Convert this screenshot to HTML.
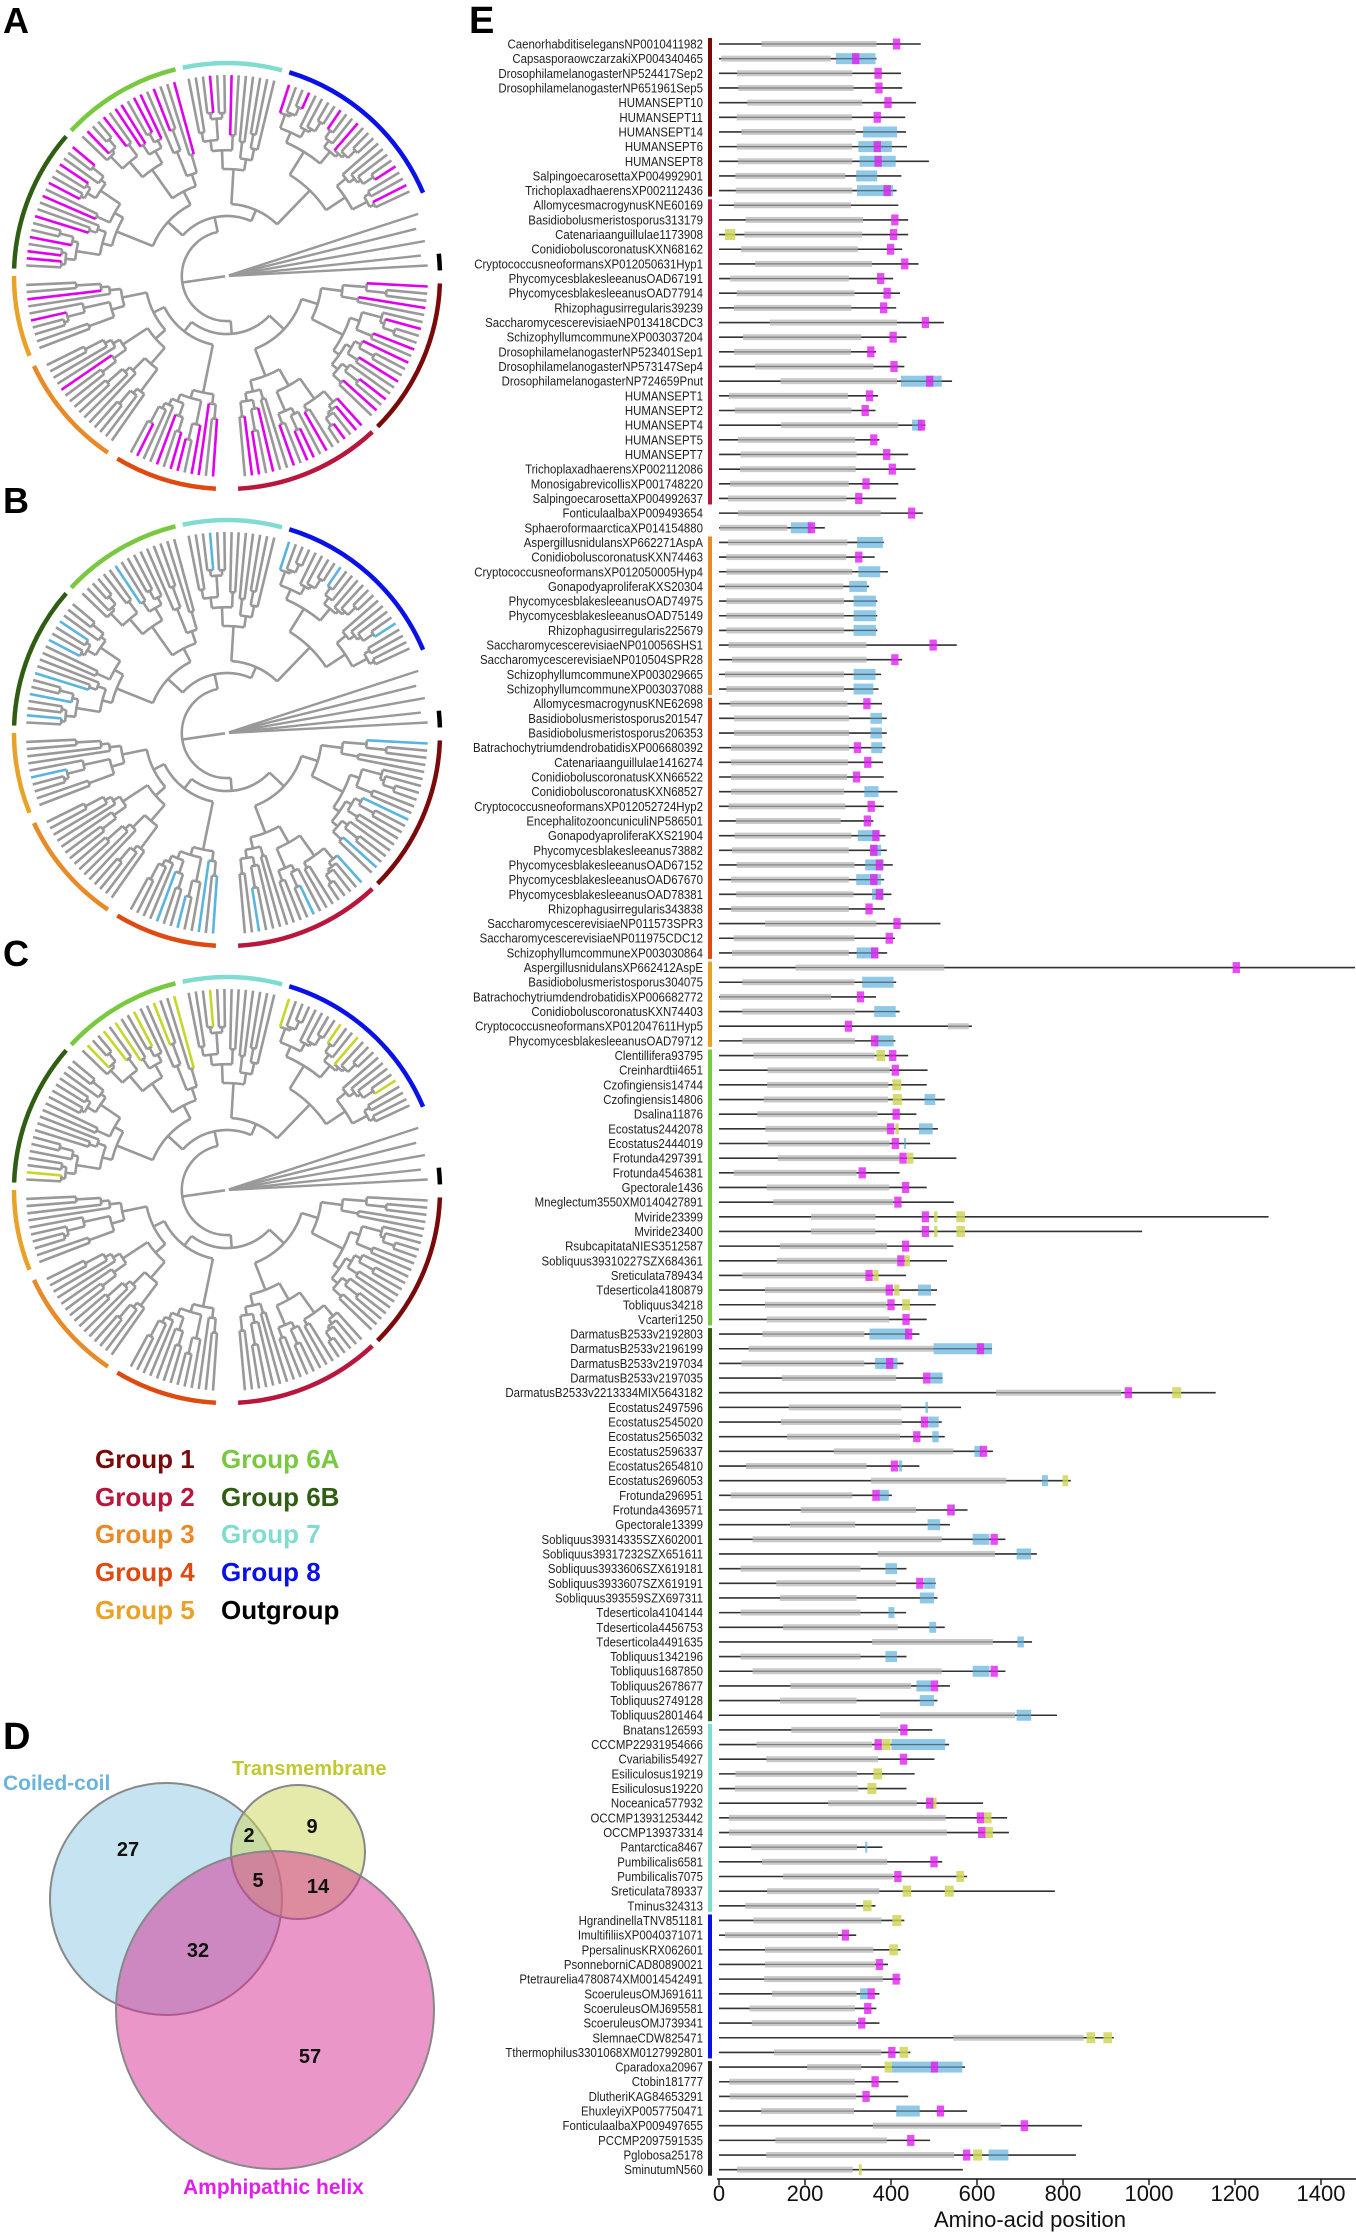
<!DOCTYPE html>
<html><head><meta charset="utf-8"><title>Septin figure</title>
<style>
html,body{margin:0;padding:0;background:#fff;}
svg{display:block;font-family:"Liberation Sans",Arial,sans-serif;}
</style></head>
<body>
<svg id="fig" width="1356" height="2232" viewBox="0 0 1356 2232" xmlns="http://www.w3.org/2000/svg">
<g id="trees"></g>
<text x="3" y="33" font-size="36" font-weight="bold">A</text>
<text x="3" y="513" font-size="36" font-weight="bold">B</text>
<text x="3" y="966" font-size="36" font-weight="bold">C</text>
<text x="3" y="1749" font-size="38" font-weight="bold">D</text>
<text x="469" y="33" font-size="38" font-weight="bold">E</text>

<g font-size="26" font-weight="bold">
<text x="95" y="1468" fill="#7a0a0a">Group 1</text>
<text x="95" y="1506" fill="#b8163c">Group 2</text>
<text x="95" y="1543" fill="#e88a28">Group 3</text>
<text x="95" y="1581" fill="#de4a10">Group 4</text>
<text x="95" y="1619" fill="#e8a228">Group 5</text>
<text x="221" y="1468" fill="#78c840">Group 6A</text>
<text x="221" y="1506" fill="#2f5e13">Group 6B</text>
<text x="221" y="1543" fill="#80dcd0">Group 7</text>
<text x="221" y="1581" fill="#0a10e8">Group 8</text>
<text x="221" y="1619" fill="#000">Outgroup</text>
</g>

<g>
<circle cx="166" cy="1899" r="116" fill="#8cc8e2" fill-opacity="0.5" stroke="#888" stroke-width="2"/>
<circle cx="298" cy="1852" r="67" fill="#ccd555" fill-opacity="0.5" stroke="#888" stroke-width="2"/>
<circle cx="275" cy="2010" r="159" fill="#d62e94" fill-opacity="0.5" stroke="#888" stroke-width="2"/>
<text x="3" y="1790" font-size="21" font-weight="bold" fill="#6ab4dc">Coiled-coil</text>
<text x="232" y="1775" font-size="20" font-weight="bold" fill="#c0c832">Transmembrane</text>
<text x="183" y="2194" font-size="21" font-weight="bold" fill="#e020e8">Amphipathic helix</text>
<g font-size="20" font-weight="bold" text-anchor="middle" fill="#111">
<text x="128" y="1856">27</text>
<text x="249" y="1842">2</text>
<text x="312" y="1833">9</text>
<text x="258" y="1887">5</text>
<text x="318" y="1893">14</text>
<text x="198" y="1957">32</text>
<text x="310" y="2063">57</text>
</g>
</g>

<g id="domains"></g>
</svg>

<script>
// ---------- Panel E data ----------
const names = ["CaenorhabditiselegansNP0010411982","CapsasporaowczarzakiXP004340465","DrosophilamelanogasterNP524417Sep2","DrosophilamelanogasterNP651961Sep5","HUMANSEPT10","HUMANSEPT11","HUMANSEPT14","HUMANSEPT6","HUMANSEPT8","SalpingoecarosettaXP004992901","TrichoplaxadhaerensXP002112436",
"AllomycesmacrogynusKNE60169","Basidiobolusmeristosporus313179","Catenariaanguillulae1173908","ConidioboluscoronatusKXN68162","CryptococcusneoformansXP012050631Hyp1","PhycomycesblakesleeanusOAD67191","PhycomycesblakesleeanusOAD77914","Rhizophagusirregularis39239","SaccharomycescerevisiaeNP013418CDC3","SchizophyllumcommuneXP003037204","DrosophilamelanogasterNP523401Sep1","DrosophilamelanogasterNP573147Sep4","DrosophilamelanogasterNP724659Pnut","HUMANSEPT1","HUMANSEPT2","HUMANSEPT4","HUMANSEPT5","HUMANSEPT7","TrichoplaxadhaerensXP002112086","MonosigabrevicollisXP001748220","SalpingoecarosettaXP004992637",
"FonticulaalbaXP009493654","SphaeroformaarcticaXP014154880",
"AspergillusnidulansXP662271AspA","ConidioboluscoronatusKXN74463","CryptococcusneoformansXP012050005Hyp4","GonapodyaproliferaKXS20304","PhycomycesblakesleeanusOAD74975","PhycomycesblakesleeanusOAD75149","Rhizophagusirregularis225679","SaccharomycescerevisiaeNP010056SHS1","SaccharomycescerevisiaeNP010504SPR28","SchizophyllumcommuneXP003029665","SchizophyllumcommuneXP003037088",
"AllomycesmacrogynusKNE62698","Basidiobolusmeristosporus201547","Basidiobolusmeristosporus206353","BatrachochytriumdendrobatidisXP006680392","Catenariaanguillulae1416274","ConidioboluscoronatusKXN66522","ConidioboluscoronatusKXN68527","CryptococcusneoformansXP012052724Hyp2","EncephalitozooncuniculiNP586501","GonapodyaproliferaKXS21904","Phycomycesblakesleeanus73882","PhycomycesblakesleeanusOAD67152","PhycomycesblakesleeanusOAD67670","PhycomycesblakesleeanusOAD78381","Rhizophagusirregularis343838","SaccharomycescerevisiaeNP011573SPR3","SaccharomycescerevisiaeNP011975CDC12","SchizophyllumcommuneXP003030864",
"AspergillusnidulansXP662412AspE","Basidiobolusmeristosporus304075","BatrachochytriumdendrobatidisXP006682772","ConidioboluscoronatusKXN74403","CryptococcusneoformansXP012047611Hyp5","PhycomycesblakesleeanusOAD79712",
"Clentillifera93795","Creinhardtii4651","Czofingiensis14744","Czofingiensis14806","Dsalina11876","Ecostatus2442078","Ecostatus2444019","Frotunda4297391","Frotunda4546381","Gpectorale1436","Mneglectum3550XM0140427891","Mviride23399","Mviride23400","RsubcapitataNIES3512587","Sobliquus39310227SZX684361","Sreticulata789434","Tdeserticola4180879","Tobliquus34218","Vcarteri1250",
"DarmatusB2533v2192803","DarmatusB2533v2196199","DarmatusB2533v2197034","DarmatusB2533v2197035","DarmatusB2533v2213334MIX5643182","Ecostatus2497596","Ecostatus2545020","Ecostatus2565032","Ecostatus2596337","Ecostatus2654810","Ecostatus2696053","Frotunda296951","Frotunda4369571","Gpectorale13399","Sobliquus39314335SZX602001","Sobliquus39317232SZX651611","Sobliquus3933606SZX619181","Sobliquus3933607SZX619191","Sobliquus393559SZX697311","Tdeserticola4104144","Tdeserticola4456753","Tdeserticola4491635","Tobliquus1342196","Tobliquus1687850","Tobliquus2678677","Tobliquus2749128","Tobliquus2801464",
"Bnatans126593","CCCMP22931954666","Cvariabilis54927","Esiliculosus19219","Esiliculosus19220","Noceanica577932","OCCMP13931253442","OCCMP139373314","Pantarctica8467","Pumbilicalis6581","Pumbilicalis7075","Sreticulata789337","Tminus324313",
"HgrandinellaTNV851181","ImultifiliisXP0040371071","PpersalinusKRX062601","PsonneborniCAD80890021","Ptetraurelia4780874XM0014542491","ScoeruleusOMJ691611","ScoeruleusOMJ695581","ScoeruleusOMJ739341","SlemnaeCDW825471","Tthermophilus3301068XM0127992801",
"Cparadoxa20967","Ctobin181777","DlutheriKAG84653291","EhuxleyiXP0057750471","FonticulaalbaXP009497655","PCCMP2097591535","Pglobosa25178","SminutumN560"];

const groupSizes = [["G1",11],["G2",21],["none",2],["G3",11],["G4",18],["G5",6],["G6A",19],["G6B",27],["G7",13],["G8",10],["Out",8]];

const protLen = [469,366,423,426,458,433,435,437,488,424,413,
417,440,440,426,464,405,421,412,523,436,365,431,542,370,364,480,373,440,457,417,412,
474,246,
383,362,393,349,368,368,368,553,426,377,371,
379,390,390,387,381,383,415,383,359,387,390,404,384,401,386,515,409,391,
1479,412,365,420,588,410,
440,485,483,525,459,509,491,552,420,483,546,1278,984,545,530,435,507,504,483,
466,635,429,520,1155,563,518,525,637,466,818,402,578,537,666,739,436,504,508,435,525,728,436,666,537,508,786,
496,535,501,455,436,614,670,674,380,519,577,781,364,
431,319,422,393,422,373,366,373,918,445,
572,417,440,577,844,491,830,567];

const domStart = [99,5,42,45,66,41,52,41,44,38,39,
35,62,59,51,84,26,41,35,118,56,35,84,143,23,37,144,44,50,49,26,21,
44,2,
21,17,17,14,17,17,17,22,30,14,17,
26,35,35,28,28,28,28,22,39,36,30,41,28,40,28,107,34,30,
178,54,2,54,532,54,
80,113,112,104,89,108,113,137,34,111,126,214,214,142,134,54,107,107,111,
101,69,52,146,644,162,144,158,267,63,353,27,190,165,78,369,50,133,142,50,149,356,50,78,166,142,374,
168,87,110,38,37,254,23,23,75,100,149,112,61,
80,14,107,107,105,123,71,76,545,128,
205,24,25,98,358,131,110,42];

const domEnd = [366,260,310,313,333,309,318,309,310,294,310,
307,335,333,323,356,302,315,308,414,331,307,359,414,300,308,417,317,320,318,302,296,
376,159,
299,296,310,289,291,291,291,343,343,291,291,
299,302,303,303,300,298,291,294,283,308,302,315,302,313,302,366,315,302,
524,315,261,317,581,316,
362,397,394,393,369,392,397,421,320,396,405,364,364,391,416,342,389,389,396,
338,499,338,412,935,424,425,421,545,343,668,310,458,317,518,642,329,412,320,329,416,637,329,518,447,320,689,
417,356,370,321,324,460,527,530,321,391,404,373,319,
378,277,359,363,381,320,316,320,848,377,
331,316,319,314,655,390,547,311];

// coiled-coil spans per protein (aa start, aa end)
const coiledCoil = [[],[[272,364]],[],[],[],[],[[335,414]],[[324,402]],[[327,411]],[[319,368]],[[321,405]],
[],[],[],[],[],[],[],[],[],[],[],[],[[423,518]],[],[],[[449,473]],[],[],[],[],[],
[],[[167,215]],
[[321,381]],[],[[324,375]],[[303,344]],[[313,365]],[[313,365]],[[313,365]],[],[],[[313,364]],[[313,359]],
[],[[352,379]],[[352,379]],[[354,380]],[],[],[[338,371]],[],[],[[323,373]],[[351,377]],[[340,383]],[[319,377]],[[356,383]],[],[],[],[[320,371]],
[],[[333,406]],[],[[361,411]],[],[[362,406]],
[],[],[],[[478,503]],[],[[465,497]],[[430,435]],[],[],[],[],[],[],[],[],[],[[463,493]],[],[],
[[350,442]],[[499,635]],[[363,415]],[[491,520]],[],[[480,486]],[[487,511]],[[496,511]],[[594,610]],[[418,426]],[[751,765]],[[372,395]],[[544,549]],[[485,514]],[[590,629]],[[692,726]],[[387,414]],[[477,503]],[[467,500]],[[394,408]],[[489,505]],[[694,709]],[[387,414]],[[590,629]],[[459,493]],[[467,500]],[[692,726]],
[],[[401,526]],[],[],[],[],[],[],[[340,345]],[],[],[],[],
[],[],[],[],[],[[328,346]],[],[],[],[],
[[402,566]],[],[],[[412,467]],[],[],[[627,673]],[]];

// transmembrane spans per protein
const transmem = [[],[],[],[],[],[],[],[],[],[],[],
[],[],[[14,38]],[],[],[],[],[],[],[],[],[],[],[],[],[],[],[],[],[],[],
[],[],
[],[],[],[],[],[],[],[],[],[],[],
[],[],[],[],[],[],[],[],[],[],[],[],[],[],[],[],[],[],
[],[],[],[],[],[],
[[366,386]],[],[[403,424]],[[404,425]],[],[[410,418]],[],[[437,452]],[],[],[],[[500,508],[552,572]],[[500,508],[552,572]],[],[[432,444]],[[359,371]],[[407,420]],[[426,444]],[],
[],[],[],[],[[1054,1075]],[],[],[],[],[],[[799,812]],[],[],[],[],[],[],[],[],[],[],[],[],[],[],[],[],
[],[[378,399]],[],[[359,379]],[[345,366]],[[493,506]],[[616,634]],[[618,637]],[],[],[[552,570]],[[427,447],[525,546]],[[335,355]],
[[403,424]],[],[[396,416]],[],[],[],[],[],[[855,875],[894,914]],[[420,440]],
[[385,402]],[],[],[],[],[],[[591,612]],[[325,332]]];

// amphipathic helix centres per protein
const amphiHelix = [[413],[318],[370],[372],[393],[368],[],[368],[370],[],[391],
[],[409],[406],[399],[432],[376],[391],[383],[480],[405],[353],[407],[490],[350],[340],[471],[360],[390],[403],[342],[325],
[448],[215],
[],[325],[],[],[],[],[],[498],[409],[],[],
[344],[],[],[322],[346],[320],[],[354],[345],[365],[360],[373],[360],[373],[349],[414],[396],[362],
[1203],[],[329],[],[301],[362],
[404],[410],[],[],[412],[399],[410],[428],[333],[434],[416],[480],[480],[434],[423],[349],[396],[400],[435],
[441],[608],[397],[483],[952],[],[478],[460],[615],[408],[],[365],[539],[],[640],[],[],[467],[],[],[],[],[],[640],[501],[],[],
[430],[370],[429],[],[],[490],[608],[611],[],[500],[416],[],[],
[],[294],[],[373],[412],[354],[346],[332],[],[402],
[501],[363],[342],[515],[710],[446],[576],[]];

const tickValues = [0,200,400,600,800,1000,1200,1400];
const groupColors = {G1:"#7a0a0a",G2:"#b8163c",G3:"#e88a28",G4:"#de4a10",G5:"#e8a228",G6A:"#78c840",G6B:"#2f5e13",G7:"#80dcd0",G8:"#0a10e8",Out:"#222"};

const NS = "http://www.w3.org/2000/svg";
function mk(tag, attrs, parent){ const e=document.createElementNS(NS,tag); for(const k in attrs) e.setAttribute(k,attrs[k]); if(parent) parent.appendChild(e); return e; }

(function drawDomains(){
  const g = document.getElementById("domains");
  const x0 = 719, pxPerAa = 0.430;
  const xs = v => x0 + v*pxPerAa;
  const ys = i => 44 + i*14.66;

  let idx = 0;
  groupSizes.forEach(([gname,n])=>{
    if(gname!=="none"){
      const bar = mk("rect",{x:708,y:ys(idx)-6,width:4,height:(n-1)*14.66+12,fill:groupColors[gname]},g);
      
      
    }
    idx += n;
  });

  const lab = mk("g",{transform:"translate(703,0) scale(0.88,1)"},g);
  names.forEach((nm,i)=>{
    const y = ys(i);
    const t = mk("text",{x:0,y:y+4.5,"font-size":13,"text-anchor":"end",fill:"#222"},lab);
    t.textContent = nm;
    
    

    const row = mk("g",{},g);
    
    
    const ln = mk("line",{x1:xs(0),x2:xs(protLen[i]),y1:y,y2:y,stroke:"#333","stroke-width":1.6},row);
    
    
    const gd = mk("rect",{x:xs(domStart[i]),y:y-3,width:(domEnd[i]-domStart[i])*pxPerAa,height:6,fill:"#c9c9c9"},row);
    
    
    coiledCoil[i].forEach(([a,b])=>{
      const r = mk("rect",{x:xs(a),y:y-5.5,width:Math.max(2,(b-a)*pxPerAa),height:11,fill:"#7dbfe3","fill-opacity":0.85},row);
      
      
    });
    mk("line",{x1:xs(0),x2:xs(protLen[i]),y1:y,y2:y,stroke:"#333","stroke-width":1.2,"stroke-opacity":0.5},row);
    transmem[i].forEach(([a,b])=>{
      const r = mk("rect",{x:xs(a),y:y-5.5,width:Math.max(2.5,(b-a)*pxPerAa),height:11,fill:"#cfd55a","fill-opacity":0.85},row);
      
      
    });
    amphiHelix[i].forEach(c=>{
      const r = mk("rect",{x:xs(c-8.5),y:y-5.5,width:17*pxPerAa,height:11,fill:"#e020f0","fill-opacity":0.8},row);
      
      
    });
  });

  const ax = mk("g",{},g);
  
  
  mk("line",{x1:717,x2:1356,y1:2179,y2:2179,stroke:"#111","stroke-width":1.6},ax);
  tickValues.forEach(v=>{
    mk("line",{x1:xs(v),x2:xs(v),y1:2179,y2:2185,stroke:"#111","stroke-width":1.4},ax);
    const t = mk("text",{x:xs(v),y:2201,"font-size":22,"text-anchor":"middle",fill:"#111"},ax);
    t.textContent = v;
    
    
  });
  const tt = mk("text",{x:1030,y:2227,"font-size":22,"text-anchor":"middle",fill:"#111"},ax);
  tt.textContent = "Amino-acid position";
  
  
})();

// ---------- Panels A-C: circular trees ----------
const treeGroups = [["G1",2,45],["G2",47,87],["G4",93,121],["G3",124,155],["G5",158,180],["G6B",182,221],["G6A",223,256],["G7",258,285],["G8",287,337]];
const highlightA = {G1:0.35,G2:0.55,G4:0.5,G3:0.1,G5:0.15,G6B:0.45,G6A:0.5,G7:0.2,G8:0.2};
const highlightB = {G1:0.08,G2:0.15,G4:0.3,G3:0.05,G5:0.05,G6B:0.25,G6A:0.1,G7:0.05,G8:0.1};
const highlightC = {G1:0,G2:0.03,G4:0,G3:0,G5:0,G6B:0.05,G6A:0.35,G7:0.1,G8:0.15};

(function drawTrees(){
  const root = document.getElementById("trees");
  const TIP = 201;
  const fr = [0.5,0.3,0.62,0.25,0.7,0.4];
  const st = [0.14,0.28,0.1,0.2,0.33,0.12];
  function build(leaves, r, d){
    if(leaves.length===1) return {a:leaves[0].a, r:r, leaf:leaves[0]};
    const n = leaves.length;
    let k = Math.max(1, Math.min(n-1, Math.round(n*fr[(d+n)%6])));
    const L = leaves.slice(0,k), R = leaves.slice(k);
    const cL = L.length===1 ? TIP : r + (TIP-r)*st[(d*2+n)%6];
    const cR = R.length===1 ? TIP : r + (TIP-r)*st[(d*3+n+1)%6];
    const kids = [build(L,cL,d+1), build(R,cR,d+1)];
    return {a:(kids[0].a+kids[1].a)/2, r:r, kids:kids};
  }
  function P(cx,cy,r,a){ const t=a*Math.PI/180; return [cx+r*Math.cos(t), cy+r*Math.sin(t)]; }
  function arc(cx,cy,r,a1,a2){ const p1=P(cx,cy,r,a1), p2=P(cx,cy,r,a2); const large=(a2-a1)>180?1:0; return `M${p1[0].toFixed(1)},${p1[1].toFixed(1)} A${r},${r} 0 ${large} 1 ${p2[0].toFixed(1)},${p2[1].toFixed(1)}`; }

  function drawTree(cx, cy, hl, hcol, name){
    const g = mk("g",{fill:"none","stroke-linecap":"butt"},root);
    
    
    const groupNodes = {};
    treeGroups.forEach(([gn,a1,a2],gi)=>{
      const leaves=[]; let j=0;
      for(let a=a1+1; a<=a2-0.5; a+=2.05){ leaves.push({a:a, g:gn, hl:((j*37+gi*13)%100) < hl[gn]*100}); j++; }
      groupNodes[gn] = build(leaves, 95+ (gi%3)*12, gi);
    });
    function join(a,b,r){ return {a:(a.a+b.a)/2, r:r, kids:[a,b]}; }
    const n12 = join(groupNodes.G1, groupNodes.G2, 78);
    const n35 = join(groupNodes.G3, groupNodes.G5, 82);
    const n435 = join(groupNodes.G4, n35, 70);
    const nLeft = join(n12, n435, 58);
    const n6 = join(groupNodes.G6B, groupNodes.G6A, 80);
    const n78 = join(groupNodes.G7, groupNodes.G8, 72);
    const nRight = join(n6, n78, 60);
    const top = join(nLeft, nRight, 45);
    function draw(node){
      if(!node.kids) return;
      const as = node.kids.map(k=>k.a);
      mk("path",{d:arc(cx,cy,node.r,Math.min(...as),Math.max(...as)),stroke:"#999","stroke-width":2.6},g);
      node.kids.forEach(k=>{
        const p1=P(cx,cy,node.r,k.a), p2=P(cx,cy,k.r,k.a);
        const col = (k.leaf && k.leaf.hl) ? hcol : "#999";
        mk("line",{x1:p1[0].toFixed(1),y1:p1[1].toFixed(1),x2:p2[0].toFixed(1),y2:p2[1].toFixed(1),stroke:col,"stroke-width":2.6},g);
        draw(k);
      });
    }
    draw(top);
    [342,346,350,354,357].forEach((a,i)=>{
      const p1=P(cx,cy,2,a), p2=P(cx,cy,TIP - (i%2)*6,a);
      mk("line",{x1:p1[0].toFixed(1),y1:p1[1].toFixed(1),x2:p2[0].toFixed(1),y2:p2[1].toFixed(1),stroke:"#999","stroke-width":2.4},g);
    });
    const rp=P(cx,cy,45,top.a), rc=P(cx,cy,2,top.a);
    mk("line",{x1:rc[0],y1:rc[1],x2:rp[0],y2:rp[1],stroke:"#999","stroke-width":2.6},g);
    treeGroups.forEach(([gn,a1,a2])=>{
      const r = mk("path",{d:arc(cx,cy,213,a1,a2),stroke:groupColors[gn],"stroke-width":4.5},g);
      
      
    });
    const o = mk("path",{d:arc(cx,cy,213,354,358.5),stroke:"#000","stroke-width":4.5},g);
    
    
  }
  drawTree(227,276,highlightA,"#e000ee","tree-amphipathic");
  drawTree(227,733,highlightB,"#5ab4e0","tree-coiled-coil");
  drawTree(227,1190,highlightC,"#c8d62a","tree-transmembrane");
})();
</script>
</body></html>
